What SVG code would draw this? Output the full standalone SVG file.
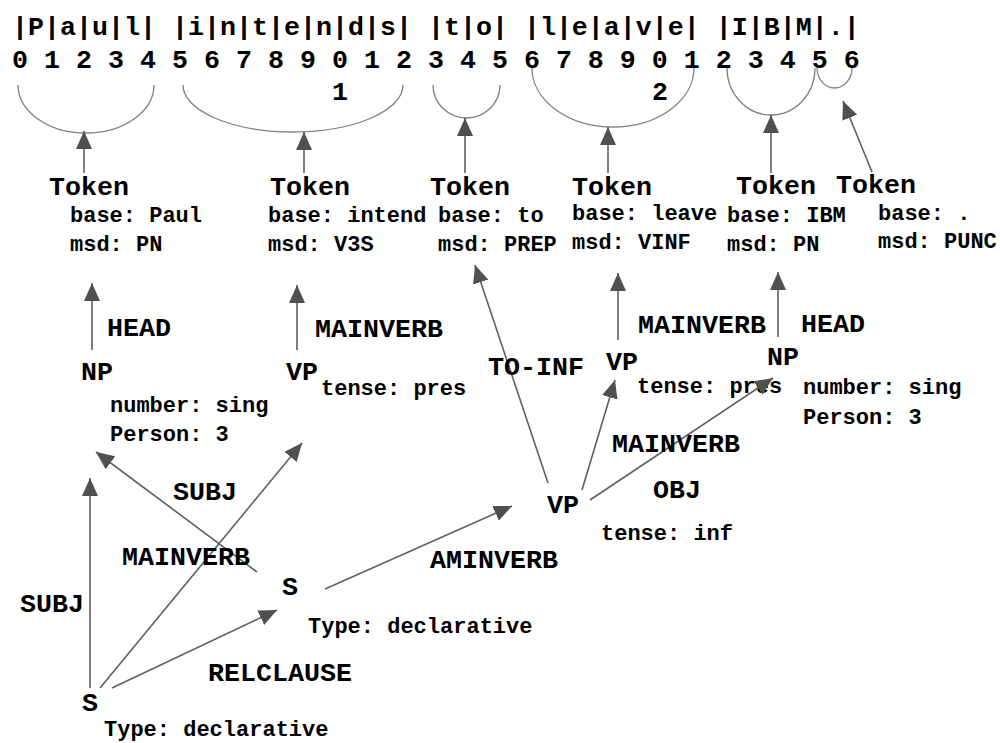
<svg xmlns="http://www.w3.org/2000/svg" width="1000" height="743" viewBox="0 0 1000 743">
<defs>
<marker id="ah" markerWidth="18" markerHeight="16" refX="18" refY="8" orient="auto" markerUnits="userSpaceOnUse">
<path d="M0,0 L18,8 L0,16 Z" fill="#505050"/>
</marker>
<style>
text{font-family:"Liberation Mono","Courier New",monospace;font-weight:bold;fill:#000}
.b{font-size:26.67px}
.s{font-size:22px}
.arc{fill:none;stroke:#808080;stroke-width:1.3}
.e{fill:none;stroke:#606060;stroke-width:1.6;marker-end:url(#ah)}
</style>
</defs>
<rect width="1000" height="743" fill="#fff"/>
<g id="text-row">
<text class="b" x="12" y="35" xml:space="preserve">|P|a|u|l| |i|n|t|e|n|d|s| |t|o| |l|e|a|v|e| |I|B|M|.|</text>
<text class="b" x="12" y="68" xml:space="preserve">0 1 2 3 4 5 6 7 8 9 0 1 2 3 4 5 6 7 8 9 0 1 2 3 4 5 6</text>
<text class="b" x="332" y="100">1</text>
<text class="b" x="652" y="100">2</text>
</g>
<g id="spans">
<path class="arc" d="M18,85 A68,48 0 0 0 154,85"/>
<path class="arc" d="M183,85 A110,47 0 0 0 403,85"/>
<path class="arc" d="M433,85 A33.5,33 0 0 0 500,85"/>
<path class="arc" d="M532,68 A81,59 0 0 0 694,68"/>
<path class="arc" d="M727,68 A44,47 0 0 0 815,68"/>
<path class="arc" d="M817,68 A17.5,20 0 0 0 852,68"/>
</g>
<g id="token1"><text class="b" x="49" y="195">Token</text><text class="s" x="70" y="222">base: Paul</text><text class="s" x="70" y="251">msd: PN</text></g>
<g id="token2"><text class="b" x="270" y="195">Token</text><text class="s" x="268" y="222">base: intend</text><text class="s" x="268" y="251">msd: V3S</text></g>
<g id="token3"><text class="b" x="430" y="195">Token</text><text class="s" x="438" y="222">base: to</text><text class="s" x="438" y="251">msd: PREP</text></g>
<g id="token4"><text class="b" x="572" y="195">Token</text><text class="s" x="572" y="220">base: leave</text><text class="s" x="572" y="249">msd: VINF</text></g>
<g id="token5"><text class="b" x="736" y="194">Token</text><text class="s" x="727" y="222">base: IBM</text><text class="s" x="727" y="251">msd: PN</text></g>
<g id="token6"><text class="b" x="836" y="193">Token</text><text class="s" x="878" y="220">base: .</text><text class="s" x="878" y="248">msd: PUNC</text></g>
<g id="np1"><text class="b" x="81" y="380">NP</text><text class="s" x="110" y="412">number: sing</text><text class="s" x="110" y="441">Person: 3</text></g>
<g id="vp1"><text class="b" x="286" y="380">VP</text><text class="s" x="321" y="395">tense: pres</text></g>
<g id="vp2"><text class="b" x="606" y="370">VP</text><text class="s" x="637" y="393">tense: pres</text></g>
<g id="np2"><text class="b" x="767" y="365">NP</text><text class="s" x="803" y="394">number: sing</text><text class="s" x="803" y="424">Person: 3</text></g>
<g id="vp3"><text class="b" x="547" y="513">VP</text><text class="s" x="601" y="540">tense: inf</text></g>
<g id="s2"><text class="b" x="282" y="595">S</text><text class="s" x="308" y="633">Type: declarative</text></g>
<g id="s1"><text class="b" x="82" y="711">S</text><text class="s" x="104" y="736">Type: declarative</text></g>
<g id="connectors">
<line class="e" x1="84" y1="173" x2="84" y2="131"/>
<line class="e" x1="304" y1="173" x2="304" y2="132"/>
<line class="e" x1="465" y1="173" x2="465" y2="118"/>
<line class="e" x1="608" y1="173" x2="608" y2="127"/>
<line class="e" x1="771" y1="173" x2="771" y2="115"/>
<line class="e" x1="872" y1="172" x2="843" y2="101"/>
<line class="e" x1="92" y1="350" x2="92" y2="283"/>
<line class="e" x1="297" y1="350" x2="297" y2="285"/>
<line class="e" x1="618" y1="340" x2="618" y2="273"/>
<line class="e" x1="778" y1="337" x2="778" y2="272"/>
<line class="e" x1="548" y1="483" x2="475" y2="265"/>
<line class="e" x1="582" y1="490" x2="615" y2="380"/>
<line class="e" x1="590" y1="500" x2="773" y2="378"/>
<line class="e" x1="257" y1="572" x2="96" y2="452"/>
<line class="e" x1="325" y1="589" x2="512" y2="506"/>
<line class="e" x1="90" y1="688" x2="90" y2="478"/>
<line class="e" x1="100" y1="688" x2="302" y2="443"/>
<line class="e" x1="112" y1="688" x2="277" y2="610"/>
<text class="b" x="107" y="336">HEAD</text>
<text class="b" x="315" y="337">MAINVERB</text>
<text class="b" x="638" y="333">MAINVERB</text>
<text class="b" x="801" y="332">HEAD</text>
<text class="b" x="488" y="375">TO-INF</text>
<text class="b" x="612" y="452">MAINVERB</text>
<text class="b" x="653" y="498">OBJ</text>
<text class="b" x="173" y="500">SUBJ</text>
<text class="b" x="122" y="565">MAINVERB</text>
<text class="b" x="20" y="612">SUBJ</text>
<text class="b" x="430" y="568">AMINVERB</text>
<text class="b" x="208" y="681">RELCLAUSE</text>
</g>
</svg>
